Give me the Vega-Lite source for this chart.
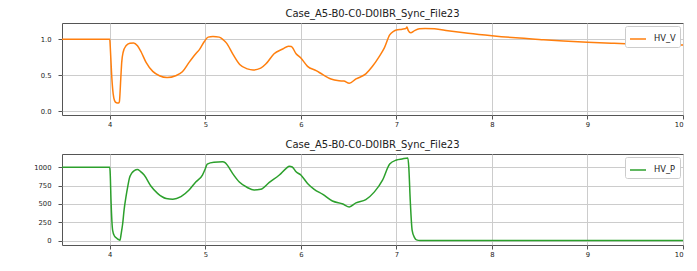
{
  "$schema": "https://vega.github.io/schema/vega-lite/v6.json",
  "background": "white",
  "padding": {"left": 31, "top": 8, "right": 11, "bottom": 4},
  "datasets": {
    "hv_v": [
      {"t": 3.5, "value": 1.0, "series": "HV_V"},
      {"t": 4.0, "value": 1.0, "series": "HV_V"},
      {"t": 4.005, "value": 0.9, "series": "HV_V"},
      {"t": 4.02, "value": 0.5, "series": "HV_V"},
      {"t": 4.035, "value": 0.25, "series": "HV_V"},
      {"t": 4.05, "value": 0.15, "series": "HV_V"},
      {"t": 4.07, "value": 0.12, "series": "HV_V"},
      {"t": 4.09, "value": 0.115, "series": "HV_V"},
      {"t": 4.1, "value": 0.13, "series": "HV_V"},
      {"t": 4.115, "value": 0.45, "series": "HV_V"},
      {"t": 4.125, "value": 0.68, "series": "HV_V"},
      {"t": 4.14, "value": 0.82, "series": "HV_V"},
      {"t": 4.17, "value": 0.91, "series": "HV_V"},
      {"t": 4.21, "value": 0.945, "series": "HV_V"},
      {"t": 4.25, "value": 0.95, "series": "HV_V"},
      {"t": 4.29, "value": 0.91, "series": "HV_V"},
      {"t": 4.33, "value": 0.82, "series": "HV_V"},
      {"t": 4.38, "value": 0.68, "series": "HV_V"},
      {"t": 4.45, "value": 0.555, "series": "HV_V"},
      {"t": 4.52, "value": 0.495, "series": "HV_V"},
      {"t": 4.6, "value": 0.47, "series": "HV_V"},
      {"t": 4.69, "value": 0.495, "series": "HV_V"},
      {"t": 4.76, "value": 0.55, "series": "HV_V"},
      {"t": 4.83, "value": 0.68, "series": "HV_V"},
      {"t": 4.9, "value": 0.8, "series": "HV_V"},
      {"t": 4.94, "value": 0.86, "series": "HV_V"},
      {"t": 4.99, "value": 0.97, "series": "HV_V"},
      {"t": 5.03, "value": 1.03, "series": "HV_V"},
      {"t": 5.08, "value": 1.04, "series": "HV_V"},
      {"t": 5.146, "value": 1.03, "series": "HV_V"},
      {"t": 5.19, "value": 0.99, "series": "HV_V"},
      {"t": 5.22, "value": 0.95, "series": "HV_V"},
      {"t": 5.29, "value": 0.79, "series": "HV_V"},
      {"t": 5.36, "value": 0.65, "series": "HV_V"},
      {"t": 5.44, "value": 0.59, "series": "HV_V"},
      {"t": 5.5, "value": 0.575, "series": "HV_V"},
      {"t": 5.58, "value": 0.6, "series": "HV_V"},
      {"t": 5.635, "value": 0.66, "series": "HV_V"},
      {"t": 5.72, "value": 0.8, "series": "HV_V"},
      {"t": 5.81, "value": 0.865, "series": "HV_V"},
      {"t": 5.87, "value": 0.905, "series": "HV_V"},
      {"t": 5.9, "value": 0.9, "series": "HV_V"},
      {"t": 5.95, "value": 0.8, "series": "HV_V"},
      {"t": 6.0, "value": 0.74, "series": "HV_V"},
      {"t": 6.07, "value": 0.625, "series": "HV_V"},
      {"t": 6.16, "value": 0.565, "series": "HV_V"},
      {"t": 6.23, "value": 0.51, "series": "HV_V"},
      {"t": 6.315, "value": 0.45, "series": "HV_V"},
      {"t": 6.4, "value": 0.425, "series": "HV_V"},
      {"t": 6.45, "value": 0.42, "series": "HV_V"},
      {"t": 6.507, "value": 0.39, "series": "HV_V"},
      {"t": 6.577, "value": 0.45, "series": "HV_V"},
      {"t": 6.68, "value": 0.52, "series": "HV_V"},
      {"t": 6.75, "value": 0.625, "series": "HV_V"},
      {"t": 6.82, "value": 0.76, "series": "HV_V"},
      {"t": 6.874, "value": 0.88, "series": "HV_V"},
      {"t": 6.93, "value": 1.06, "series": "HV_V"},
      {"t": 6.97, "value": 1.11, "series": "HV_V"},
      {"t": 7.0, "value": 1.13, "series": "HV_V"},
      {"t": 7.06, "value": 1.14, "series": "HV_V"},
      {"t": 7.1, "value": 1.15, "series": "HV_V"},
      {"t": 7.11, "value": 1.17, "series": "HV_V"},
      {"t": 7.125, "value": 1.12, "series": "HV_V"},
      {"t": 7.15, "value": 1.09, "series": "HV_V"},
      {"t": 7.19, "value": 1.12, "series": "HV_V"},
      {"t": 7.24, "value": 1.145, "series": "HV_V"},
      {"t": 7.3, "value": 1.15, "series": "HV_V"},
      {"t": 7.4, "value": 1.145, "series": "HV_V"},
      {"t": 7.54, "value": 1.12, "series": "HV_V"},
      {"t": 7.75, "value": 1.085, "series": "HV_V"},
      {"t": 8.0, "value": 1.05, "series": "HV_V"},
      {"t": 8.25, "value": 1.02, "series": "HV_V"},
      {"t": 8.52, "value": 0.995, "series": "HV_V"},
      {"t": 8.75, "value": 0.975, "series": "HV_V"},
      {"t": 9.0, "value": 0.958, "series": "HV_V"},
      {"t": 9.25, "value": 0.945, "series": "HV_V"},
      {"t": 9.46, "value": 0.935, "series": "HV_V"},
      {"t": 9.75, "value": 0.926, "series": "HV_V"},
      {"t": 10.0, "value": 0.92, "series": "HV_V"}
    ],
    "hv_p": [
      {"t": 3.5, "value": 1000, "series": "HV_P"},
      {"t": 4.0, "value": 1000, "series": "HV_P"},
      {"t": 4.005, "value": 900, "series": "HV_P"},
      {"t": 4.013, "value": 550, "series": "HV_P"},
      {"t": 4.03, "value": 140, "series": "HV_P"},
      {"t": 4.05, "value": 60, "series": "HV_P"},
      {"t": 4.066, "value": 40, "series": "HV_P"},
      {"t": 4.09, "value": 15, "series": "HV_P"},
      {"t": 4.107, "value": 5, "series": "HV_P"},
      {"t": 4.12, "value": 100, "series": "HV_P"},
      {"t": 4.135, "value": 230, "series": "HV_P"},
      {"t": 4.15, "value": 420, "series": "HV_P"},
      {"t": 4.17, "value": 600, "series": "HV_P"},
      {"t": 4.19, "value": 750, "series": "HV_P"},
      {"t": 4.205, "value": 850, "series": "HV_P"},
      {"t": 4.23, "value": 920, "series": "HV_P"},
      {"t": 4.257, "value": 955, "series": "HV_P"},
      {"t": 4.29, "value": 970, "series": "HV_P"},
      {"t": 4.32, "value": 945, "series": "HV_P"},
      {"t": 4.36, "value": 895, "series": "HV_P"},
      {"t": 4.43, "value": 745, "series": "HV_P"},
      {"t": 4.5, "value": 645, "series": "HV_P"},
      {"t": 4.59, "value": 575, "series": "HV_P"},
      {"t": 4.66, "value": 565, "series": "HV_P"},
      {"t": 4.745, "value": 600, "series": "HV_P"},
      {"t": 4.83, "value": 690, "series": "HV_P"},
      {"t": 4.9, "value": 800, "series": "HV_P"},
      {"t": 4.97, "value": 895, "series": "HV_P"},
      {"t": 5.0, "value": 980, "series": "HV_P"},
      {"t": 5.02, "value": 1045, "series": "HV_P"},
      {"t": 5.09, "value": 1070, "series": "HV_P"},
      {"t": 5.18, "value": 1075, "series": "HV_P"},
      {"t": 5.21, "value": 1060, "series": "HV_P"},
      {"t": 5.23, "value": 1030, "series": "HV_P"},
      {"t": 5.287, "value": 915, "series": "HV_P"},
      {"t": 5.356, "value": 800, "series": "HV_P"},
      {"t": 5.44, "value": 725, "series": "HV_P"},
      {"t": 5.51, "value": 690, "series": "HV_P"},
      {"t": 5.58, "value": 700, "series": "HV_P"},
      {"t": 5.67, "value": 795, "series": "HV_P"},
      {"t": 5.775, "value": 895, "series": "HV_P"},
      {"t": 5.85, "value": 990, "series": "HV_P"},
      {"t": 5.88, "value": 1015, "series": "HV_P"},
      {"t": 5.91, "value": 1005, "series": "HV_P"},
      {"t": 5.95, "value": 940, "series": "HV_P"},
      {"t": 6.0, "value": 895, "series": "HV_P"},
      {"t": 6.07, "value": 780, "series": "HV_P"},
      {"t": 6.14, "value": 700, "series": "HV_P"},
      {"t": 6.23, "value": 630, "series": "HV_P"},
      {"t": 6.33, "value": 540, "series": "HV_P"},
      {"t": 6.44, "value": 500, "series": "HV_P"},
      {"t": 6.507, "value": 460, "series": "HV_P"},
      {"t": 6.577, "value": 515, "series": "HV_P"},
      {"t": 6.68, "value": 560, "series": "HV_P"},
      {"t": 6.77, "value": 665, "series": "HV_P"},
      {"t": 6.855, "value": 825, "series": "HV_P"},
      {"t": 6.93, "value": 1045, "series": "HV_P"},
      {"t": 7.0, "value": 1100, "series": "HV_P"},
      {"t": 7.06, "value": 1115, "series": "HV_P"},
      {"t": 7.12, "value": 1128, "series": "HV_P"},
      {"t": 7.13, "value": 1000, "series": "HV_P"},
      {"t": 7.145, "value": 550, "series": "HV_P"},
      {"t": 7.165, "value": 140, "series": "HV_P"},
      {"t": 7.19, "value": 40, "series": "HV_P"},
      {"t": 7.21, "value": 10, "series": "HV_P"},
      {"t": 7.25, "value": 2, "series": "HV_P"},
      {"t": 7.4, "value": 0, "series": "HV_P"},
      {"t": 10.0, "value": 0, "series": "HV_P"}
    ]
  },
  "vconcat": [
    {
      "width": 621,
      "height": 92,
      "title": "Case_A5-B0-C0-D0IBR_Sync_File23",
      "data": {"name": "hv_v"},
      "mark": {"type": "line", "strokeWidth": 1.5, "interpolate": "monotone"},
      "encoding": {
        "x": {"field": "t", "type": "quantitative", "scale": {"domain": [3.5, 10], "nice": false, "zero": false}, "axis": {"values": [4, 5, 6, 7, 8, 9, 10], "format": "d", "title": null}},
        "y": {"field": "value", "type": "quantitative", "scale": {"domain": [-0.05, 1.226], "nice": false, "zero": false}, "axis": {"values": [0, 0.5, 1], "format": ".1f", "title": null}},
        "color": {"field": "series", "type": "nominal", "scale": {"domain": ["HV_V"], "range": ["#ff7f0e"]}, "legend": {"title": null}}
      }
    },
    {
      "width": 621,
      "height": 91,
      "title": "Case_A5-B0-C0-D0IBR_Sync_File23",
      "data": {"name": "hv_p"},
      "mark": {"type": "line", "strokeWidth": 1.5, "interpolate": "monotone"},
      "encoding": {
        "x": {"field": "t", "type": "quantitative", "scale": {"domain": [3.5, 10], "nice": false, "zero": false}, "axis": {"values": [4, 5, 6, 7, 8, 9, 10], "format": "d", "title": null}},
        "y": {"field": "value", "type": "quantitative", "scale": {"domain": [-60, 1182], "nice": false, "zero": false}, "axis": {"values": [0, 250, 500, 750, 1000], "format": "d", "title": null}},
        "color": {"field": "series", "type": "nominal", "scale": {"domain": ["HV_P"], "range": ["#2ca02c"]}, "legend": {"title": null}}
      }
    }
  ],
  "spacing": 10,
  "resolve": {"scale": {"color": "independent"}},
  "config": {
    "font": "DejaVu Sans",
    "view": {"stroke": "#555555", "strokeWidth": 1},
    "title": {"fontSize": 10, "font": "DejaVu Sans", "fontWeight": "normal", "color": "#222222", "offset": 4, "anchor": "middle"},
    "axis": {"labelFont": "DejaVu Sans", "labelFontSize": 6.8, "labelColor": "#222222", "tickColor": "#555555", "tickSize": 4, "domain": false, "gridColor": "#cccccc", "gridWidth": 1},
    "axisX": {"labelPadding": 2},
    "axisY": {"labelPadding": 7, "minExtent": 30, "maxExtent": 30},
    "legend": {"orient": "top-right", "offset": 3, "fillColor": "white", "strokeColor": "#cccccc", "padding": 4, "cornerRadius": 2, "symbolType": "stroke", "symbolSize": 256, "symbolStrokeWidth": 1.5, "labelFontSize": 8.3, "labelFont": "DejaVu Sans", "labelColor": "#222222", "labelOffset": 7}
  }
}
